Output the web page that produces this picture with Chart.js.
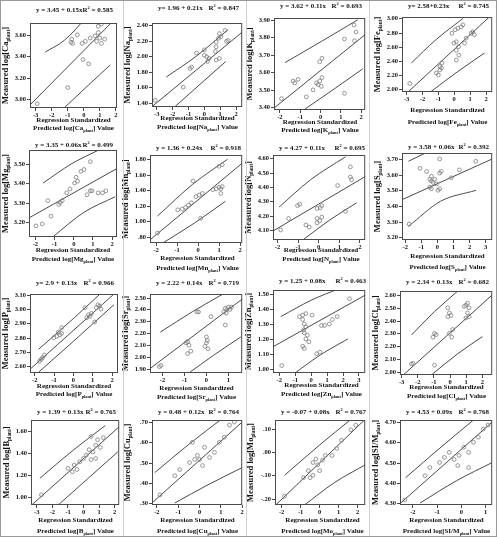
<!DOCTYPE html>
<html>
<head>
<meta charset="utf-8">
<script src="https://cdn.jsdelivr.net/npm/chart.js@4.4.1/dist/chart.umd.min.js"></script>
<style>
html, body { margin: 0; padding: 0; background: #fff; }
#fig { position: relative; width: 497px; height: 537px; overflow: hidden; }
#fig canvas { position: absolute; }
.frame { position: absolute; left: 0; top: 0; width: 497px; height: 537px; border: 1px solid #9a9a9a; box-sizing: border-box; }
.sep { position: absolute; top: 0; width: 1px; height: 537px; background: #cfcfcf; }
</style>
</head>
<body>
<div id="fig"></div>
<script>
// element names, fit equations and R squared, row by row
const elements = ['Ca', 'Na', 'K', 'Fe', 'Mg', 'Mn', 'N', 'S', 'P', 'Sr', 'Zn', 'Cl', 'B', 'Cu', 'Mo', 'SI/M'];
const equations = ['y = 3.45 + 0.15x', 'y= 1.96 + 0.21x', 'y = 3.62 + 0.11x', 'y= 2.58+0.23x',
    'y = 3.35 + 0.06x', 'y = 1.36 + 0.24x', 'y = 4.27 + 0.11x', 'y = 3.58 + 0.06x',
    'y= 2.9 + 0.13x', 'y = 2.22 + 0.14x', 'y = 1.25 + 0.08x', 'y = 2.34 + 0.13x',
    'y = 1.39 + 0.13x', 'y = 0.48 + 0.12x', 'y = -0.07 + 0.08x', 'y = 4.53 + 0.09x'];
const rSquared = ['0.585', '0.847', '0.693', '0.745', '0.499', '0.918', '0.695', '0.392',
    '0.966', '0.719', '0.463', '0.682', '0.765', '0.764', '0.767', '0.768'];

// axis ticks and limits
const xTickVals = [[-3, -2, -1, 0, 1, 2], [-3, -2, -1, 0, 1, 2], [-2, -1, 0, 1, 2], [-3, -2, -1, 0, 1, 2],
    [-2, -1, 0, 1, 2], [-2, -1, 0, 1, 2], [-2, -1, 0, 1, 2], [-2, -1, 0, 1, 2, 3],
    [-2, -1, 0, 1, 2], [-2, -1, 0, 1], [-2, -1, 0, 1, 2, 3], [-3, -2, -1, 0, 1, 2],
    [-3, -2, -1, 0, 1, 2], [-2, -1, 0, 1, 2], [-2, -1, 0, 1, 2], [-2, -1, 0, 1]];
const yTickVals = [[3.0, 3.2, 3.4, 3.6], [1.4, 1.6, 1.8, 2.0, 2.2, 2.4], [3.4, 3.5, 3.6, 3.7, 3.8, 3.9], [2.0, 2.2, 2.4, 2.6, 2.8, 3.0],
    [3.2, 3.3, 3.4, 3.5], [0.8, 1.0, 1.2, 1.4, 1.6, 1.8], [4.1, 4.2, 4.3, 4.4, 4.5, 4.6], [3.2, 3.3, 3.4, 3.5, 3.6, 3.7],
    [2.6, 2.7, 2.8, 2.9, 3.0, 3.1], [1.9, 2.0, 2.1, 2.2, 2.3, 2.4, 2.5], [1.0, 1.1, 1.2, 1.3, 1.4, 1.5], [2.0, 2.1, 2.2, 2.3, 2.4, 2.5, 2.6],
    [1.0, 1.2, 1.4, 1.6], [0.3, 0.4, 0.5, 0.6, 0.7], [-0.2, -0.1, 0.0, 0.1], [4.3, 4.4, 4.5, 4.6, 4.7]];
const xLimits = [[-3.35, 2.07], [-3.3, 2.39], [-2.29, 2.2], [-3.29, 2.39],
    [-2.33, 2.25], [-2.29, 2.1], [-2.22, 2.26], [-2.2, 3.41],
    [-2.25, 2.31], [-2.57, 1.63], [-2.39, 3.39], [-3.1, 2.61],
    [-3.37, 2.29], [-2.23, 2.0], [-2.35, 2.4], [-2.53, 1.27]];
const yLimits = [[2.92, 3.71], [1.345, 2.426], [3.385, 3.91], [1.96, 3.02],
    [3.123, 3.57], [0.723, 1.855], [4.03, 4.623], [3.183, 3.738],
    [2.554, 3.105], [1.867, 2.53], [0.97, 1.529], [1.974, 2.631],
    [0.927, 1.70], [0.29, 0.71], [-0.227, 0.137], [4.29, 4.71]];

// measured vs predicted points [x, y]
const caPts = [[-2.9, 2.96], [-1.0, 3.11], [-0.05, 3.37], [0.3, 3.33], [-0.8, 3.53], [-0.75, 3.56], [-0.7, 3.52], [-0.4, 3.60], [-0.1, 3.52], [0.1, 3.54], [0.4, 3.57], [0.7, 3.59], [0.9, 3.68], [1.1, 3.70], [0.9, 3.62], [1.0, 3.57], [1.1, 3.52], [1.3, 3.56], [0.8, 3.54]];
const naPts = [[-3.1, 1.43], [-1.33, 1.60], [-0.9, 1.84], [-0.8, 1.86], [-0.5, 2.04], [0.0, 2.08], [0.0, 2.01], [0.15, 1.99], [0.3, 1.97], [0.2, 1.93], [0.75, 2.12], [0.7, 2.06], [0.75, 2.18], [0.9, 2.23], [1.05, 2.25], [0.95, 2.29], [1.3, 2.33], [1.4, 2.19], [1.5, 2.20], [0.75, 1.95], [0.95, 1.97]];
const kPts = [[-1.92, 3.45], [-1.35, 3.55], [-1.1, 3.56], [-1.27, 3.54], [-0.7, 3.46], [-0.37, 3.50], [-0.2, 3.54], [-0.04, 3.55], [0.07, 3.57], [0.04, 3.52], [-0.12, 3.53], [0.07, 3.68], [-0.04, 3.66], [1.18, 3.79], [1.65, 3.87], [1.75, 3.83], [1.67, 3.78], [1.18, 3.48]];
const fePts = [[-2.8, 2.08], [-1.13, 2.23], [-1.0, 2.20], [-0.9, 2.32], [-0.9, 2.27], [-0.77, 2.37], [-0.8, 2.30], [-0.15, 2.79], [0.06, 2.84], [0.23, 2.86], [0.44, 2.88], [0.54, 2.91], [-0.02, 2.65], [0.13, 2.67], [0.27, 2.60], [0.13, 2.55], [0.29, 2.48], [0.13, 2.41], [0.65, 2.65], [0.75, 2.72], [1.06, 2.79], [1.17, 2.81], [1.27, 2.77]];
const mgPts = [[-1.97, 3.18], [-1.64, 3.19], [-1.18, 3.23], [-1.35, 3.31], [-0.7, 3.30], [-0.78, 3.29], [-0.6, 3.31], [-0.37, 3.35], [-0.2, 3.37], [0.04, 3.40], [0.2, 3.41], [0.12, 3.43], [0.53, 3.47], [0.37, 3.46], [0.86, 3.51], [0.69, 3.34], [0.86, 3.36], [0.95, 3.36], [1.27, 3.35], [1.5, 3.35], [1.67, 3.36]];
const mnPts = [[-1.93, 0.85], [-0.97, 1.15], [-0.75, 1.16], [-0.46, 1.21], [-0.32, 1.24], [-0.6, 1.18], [-0.1, 1.32], [0.05, 1.34], [0.2, 1.36], [0.71, 1.41], [0.86, 1.42], [1.0, 1.44], [1.08, 1.42], [1.15, 1.45], [1.08, 1.36], [0.12, 1.04], [1.0, 1.71], [1.15, 1.73], [-0.24, 1.52]];
const nPts = [[-1.85, 4.10], [-1.46, 4.18], [-1.03, 4.27], [-0.92, 4.28], [-0.62, 4.135], [-0.46, 4.12], [-0.08, 4.25], [0.15, 4.27], [0.07, 4.255], [-0.08, 4.18], [-0.08, 4.15], [0.05, 4.165], [0.15, 4.19], [0.92, 4.41], [1.54, 4.54], [1.54, 4.47], [1.6, 4.45], [1.3, 4.23]];
const sPts = [[-1.76, 3.285], [-1.08, 3.64], [-0.67, 3.62], [-0.37, 3.59], [-0.47, 3.57], [-0.37, 3.56], [-0.27, 3.55], [-0.16, 3.57], [-0.47, 3.52], [-0.37, 3.51], [0.14, 3.70], [0.14, 3.61], [0.24, 3.62], [-0.06, 3.54], [0.14, 3.51], [0.04, 3.50], [0.86, 3.58], [1.37, 3.63], [2.39, 3.685]];
const pPts = [[-1.76, 2.635], [-1.67, 2.65], [-1.6, 2.66], [-1.5, 2.68], [-1.02, 2.80], [-0.86, 2.81], [-0.7, 2.82], [-0.61, 2.83], [-0.78, 2.84], [-0.61, 2.87], [0.69, 2.94], [0.78, 2.96], [0.86, 2.95], [0.94, 2.97], [0.61, 3.01], [1.18, 3.01], [1.27, 3.03], [1.35, 3.02], [1.43, 3.0], [1.1, 2.91]];
const srPts = [[-2.14, 1.92], [-2.07, 1.93], [-0.93, 2.12], [-0.86, 2.13], [-0.79, 2.10], [-0.86, 2.03], [-0.71, 2.05], [-0.43, 2.38], [-0.36, 2.38], [0.21, 2.34], [0.0, 2.17], [0.04, 2.14], [0.0, 2.12], [-0.07, 2.09], [0.07, 2.07], [0.86, 2.27], [0.79, 2.38], [0.86, 2.41], [0.93, 2.40], [1.0, 2.42], [1.07, 2.40], [1.14, 2.42], [0.9, 2.37]];
const znPts = [[-1.84, 1.02], [-0.73, 1.35], [-0.53, 1.36], [-0.33, 1.37], [-0.53, 1.33], [-0.43, 1.30], [-0.33, 1.28], [-0.47, 1.26], [-0.43, 1.24], [-0.24, 1.225], [-0.33, 1.20], [-0.14, 1.18], [0.06, 1.36], [-0.53, 1.15], [-0.43, 1.135], [0.65, 1.29], [0.84, 1.29], [1.14, 1.30], [1.33, 1.33], [1.63, 1.35], [2.41, 1.47], [0.35, 1.10], [0.55, 1.11]];
const clPts = [[-2.39, 2.06], [-2.29, 2.065], [-1.06, 2.27], [-0.96, 2.30], [-0.86, 2.29], [-0.96, 2.05], [-0.04, 2.30], [0.16, 2.33], [0.1, 2.27], [-0.14, 2.50], [-0.04, 2.46], [0.06, 2.44], [-0.14, 2.43], [0.88, 2.51], [0.98, 2.52], [1.08, 2.535], [1.18, 2.50], [1.08, 2.46], [0.98, 2.42], [1.18, 2.43]];
const bPts = [[-2.7, 1.02], [-1.0, 1.26], [-0.72, 1.23], [-0.6, 1.29], [-0.42, 1.25], [-0.24, 1.32], [0.0, 1.35], [0.18, 1.38], [0.36, 1.43], [0.6, 1.41], [0.78, 1.47], [0.48, 1.34], [0.78, 1.35], [0.9, 1.52], [1.08, 1.45], [1.27, 1.54], [0.48, 1.55]];
const cuPts = [[-1.86, 0.34], [-1.16, 0.435], [-0.93, 0.465], [-0.47, 0.50], [-0.23, 0.515], [-0.1, 0.535], [0.0, 0.515], [0.14, 0.485], [-0.33, 0.60], [0.23, 0.575], [0.47, 0.525], [0.7, 0.55], [0.93, 0.60], [1.16, 0.625], [1.4, 0.685], [1.63, 0.70]];
const moPts = [[-1.85, -0.19], [-0.85, -0.11], [-0.6, -0.08], [-0.35, -0.10], [-0.35, -0.045], [-0.1, -0.055], [0.15, -0.035], [-0.2, -0.03], [0.3, -0.015], [-0.5, -0.11], [0.65, -0.015], [0.9, 0.015], [1.15, 0.05], [1.65, 0.095], [1.9, 0.115], [0.0, -0.08]];
const simPts = [[-2.33, 4.315], [-1.5, 4.435], [-1.3, 4.475], [-0.9, 4.50], [-0.7, 4.525], [-0.5, 4.55], [-0.3, 4.515], [-0.1, 4.535], [-0.15, 4.485], [0.1, 4.575], [0.3, 4.55], [0.5, 4.60], [0.7, 4.625], [0.9, 4.665], [1.1, 4.685], [0.3, 4.475]];

// fit line end points
const fitLines = [
    [[-3.4, 2.94], [2.1, 3.77]], [[-3.3, 1.35], [2.4, 2.31]], [[-2.3, 3.395], [2.2, 3.815]], [[-3.3, 1.88], [2.4, 3.06]],
    [[-2.35, 3.22], [2.25, 3.475]], [[-2.3, 0.76], [2.1, 1.75]], [[-2.25, 4.09], [2.35, 4.48]], [[-2.2, 3.44], [3.41, 3.70]],
    [[-2.25, 2.58], [2.31, 3.13]], [[-2.6, 1.90], [1.65, 2.49]], [[-2.4, 1.146], [3.4, 1.495]], [[-2.9, 1.974], [2.61, 2.60]],
    [[-3.3, 0.93], [2.3, 1.64]], [[-2.23, 0.30], [2.0, 0.70]], [[-2.35, -0.23], [2.4, 0.14]], [[-2.5, 4.30], [1.27, 4.70]]];
// upper and lower 95% bands
const upperBands = [
    [[-2.4, 3.44], [-1.2, 3.55], [0.1, 3.75]], [[-2.4, 1.73], [-0.5, 2.0], [1.5, 2.34]], [[-1.75, 3.655], [0.04, 3.776], [1.84, 3.90]], [[-2.7, 2.37], [-1.2, 2.69], [0.55, 3.0]],
    [[-1.6, 3.40], [-0.1, 3.50], [1.3, 3.57]], [[-1.93, 1.07], [-0.25, 1.48], [1.4, 1.80]], [[-1.92, 4.26], [-0.4, 4.45], [1.3, 4.61]], [[-1.8, 3.685], [-0.8, 3.735]],
    [[-1.8, 2.72], [0.05, 2.94], [1.9, 3.17]], [[-2.1, 2.21], [-0.65, 2.38], [0.95, 2.55]], [[-1.9, 1.35], [0.0, 1.46], [1.8, 1.54]], [[-2.39, 2.287], [-0.96, 2.47], [0.47, 2.63]],
    [[-2.8, 1.17], [-0.8, 1.41], [1.4, 1.65]], [[-2.1, 0.45], [-0.5, 0.59], [1.16, 0.725]], [[-1.85, -0.10], [0.0, 0.03], [1.65, 0.14]], [[-2.3, 4.425], [-0.8, 4.58], [0.65, 4.725]]];
const lowerBands = [
    [[-1.3, 2.91], [0.2, 3.12], [1.65, 3.32]], [[-1.85, 1.35], [-0.2, 1.65], [1.35, 1.93]], [[-0.78, 3.389], [0.61, 3.50], [2.08, 3.62]], [[-1.54, 1.953], [0.23, 2.25], [1.9, 2.51]],
    [[-1.1, 3.123], [0.53, 3.25], [2.16, 3.33]], [[-1.7, 0.72], [-0.17, 0.98], [1.3, 1.26]], [[-0.77, 4.03], [0.54, 4.17], [1.85, 4.29]], [[-1.8, 3.27], [0.2, 3.43], [2.4, 3.50]],
    [[-1.8, 2.56], [0.0, 2.775], [2.1, 3.03]], [[-0.93, 1.85], [0.36, 2.02], [1.57, 2.17]], [[-1.2, 0.955], [0.55, 1.09], [2.31, 1.20]], [[-1.16, 1.974], [0.47, 2.14], [2.0, 2.274]],
    [[-1.6, 0.93], [0.3, 1.17], [2.2, 1.41]], [[-1.16, 0.30], [0.4, 0.39], [2.0, 0.475]], [[-0.85, -0.23], [0.8, -0.13], [2.4, -0.055]], [[-1.7, 4.30], [-0.2, 4.41], [1.27, 4.50]]];

const pointSets = [caPts, naPts, kPts, fePts, mgPts, mnPts, nPts, sPts, pPts, srPts, znPts, clPts, bPts, cuPts, moPts, simPts];

// page layout (pixels)
const colX = [0, 116, 239, 362], colW = [124, 131, 131, 135];
const rowY = [0, 131, 264, 396], rowH = [131, 133, 132, 141];
const plotBoxes = [
    [30, 23, 117, 108], [152, 23, 243, 107], [274, 18, 366, 110], [402, 17, 493, 92],
    [29, 150, 117, 237], [150, 155, 245, 243], [273, 155, 369, 240], [402, 153, 493, 240],
    [30, 294, 118, 373], [150, 294, 243, 373], [273, 290, 370, 373], [400, 291, 493, 375],
    [31, 420, 120, 505], [152, 420, 243, 505], [275, 420, 370, 505], [400, 420, 493, 505]];
const titleY = [10, 8, 6, 6, 145, 148, 148, 147, 283, 283, 281, 282, 412, 412, 412, 412];
const xTitleY = [[120, 128], [118, 127], [122, 130], [110, 122], [250, 259], [258, 268], [250, 259], [256, 267],
    [386, 394], [388, 397], [385, 394], [387, 396], [520, 531], [520, 531], [520, 531], [520, 531]];

const SERIF = '"Liberation Serif", "Times New Roman", serif';
const INK = '#111111';
const LINE = '#4a4a4a';
const AXIS_W = 18, AXIS_H = 12, EXTRA_H = 10, YTITLE_GAP = 25;

function font(size) { return 'bold ' + size + 'px ' + SERIF; }

// parts: [text, 0 normal | 1 subscript | 2 superscript]
function drawRich(ctx, parts, x, y, size, align) {
    let w = 0;
    parts.forEach(p => { ctx.font = font(p[1] ? size * 0.62 : size); w += ctx.measureText(p[0]).width; });
    let px = align === 'center' ? x - w / 2 : align === 'right' ? x - w : x;
    ctx.textAlign = 'left';
    ctx.textBaseline = 'alphabetic';
    parts.forEach(p => {
        ctx.font = font(p[1] ? size * 0.62 : size);
        const dy = p[1] === 1 ? size * 0.22 : p[1] === 2 ? -size * 0.4 : 0;
        ctx.fillText(p[0], px, y + size * 0.32 + dy);
        px += ctx.measureText(p[0]).width;
    });
}

function fmtY(v) {
    let s = Math.abs(v).toFixed(2);
    if (Math.abs(v) < 1) s = s.replace(/^0/, '');
    return (v < -1e-9 ? '-' : '') + s;
}

const panelText = {
    id: 'panelText',
    afterDraw(chart, args, opts) {
        const ctx = chart.ctx, a = chart.chartArea, i = opts.index;
        const ox = opts.ox, oy = opts.oy;
        const [L, T, R, B] = plotBoxes[i];
        const el = elements[i];
        const yScale = chart.scales.y;
        ctx.save();
        ctx.strokeStyle = LINE;
        ctx.lineWidth = 1;
        ctx.strokeRect(a.left + 0.5, a.top + 0.5, a.right - a.left - 1, a.bottom - a.top - 1);
        ctx.fillStyle = INK;
        // y tick labels and marks placed by the chart's own y scale
        ctx.font = font(6.5);
        ctx.textAlign = 'right';
        ctx.textBaseline = 'middle';
        yTickVals[i].forEach(v => {
            const py = Math.round(yScale.getPixelForValue(v)) + 0.5;
            ctx.fillText(fmtY(v), a.left - 4, py);
            ctx.beginPath();
            ctx.moveTo(a.left - 3, py);
            ctx.lineTo(a.left, py);
            ctx.stroke();
        });
        drawRich(ctx, [[equations[i], 0]], L + 6 - ox, titleY[i] - oy, 7, 'left');
        drawRich(ctx, [['R', 0], ['2', 2], [' = ' + rSquared[i], 0]], R - 4 - ox, titleY[i] - oy, 7, 'right');
        drawRich(ctx, [['Regression Standardized', 0]], (L + R) / 2 - ox, xTitleY[i][0] - oy, 7, 'center');
        drawRich(ctx, [['Predicted log[' + el, 0], ['plant', 1], ['] Value', 0]], (L + R) / 2 - ox, xTitleY[i][1] - oy, 7, 'center');
        ctx.translate(Math.max(L - YTITLE_GAP - ox, 5), (T + B) / 2 - oy);
        ctx.rotate(-Math.PI / 2);
        drawRich(ctx, [['Measured log[' + el, 0], ['plant', 1], [']', 0]], 0, 0, 8.5, 'center');
        ctx.restore();
    }
};

function toXY(pairs) { return pairs.map(p => ({ x: p[0], y: p[1] })); }

function zeroPad(scale) {
    scale.paddingLeft = 0; scale.paddingRight = 0; scale.paddingTop = 0; scale.paddingBottom = 0;
}

const fig = document.getElementById('fig');

elements.forEach((el, i) => {
    const col = i % 4, row = Math.floor(i / 4);
    const cx = colX[col], cy = rowY[row], cw = colW[col], ch = rowH[row] + EXTRA_H;
    const [L, T, R, B] = plotBoxes[i];
    const canvas = document.createElement('canvas');
    canvas.width = cw;
    canvas.height = ch;
    canvas.style.left = cx + 'px';
    canvas.style.top = cy + 'px';
    canvas.style.width = cw + 'px';
    canvas.style.height = ch + 'px';
    fig.appendChild(canvas);

    const lineSet = (pairs, curved) => ({
        data: toXY(pairs), showLine: true, pointRadius: 0, borderColor: LINE, borderWidth: 1,
        cubicInterpolationMode: curved ? 'monotone' : 'default', clip: 0
    });

    new Chart(canvas.getContext('2d'), {
        type: 'scatter',
        data: {
            datasets: [
                {
                    data: toXY(pointSets[i]), showLine: false, pointStyle: 'circle', pointRadius: 1.9,
                    borderColor: '#7c7c7c', backgroundColor: 'rgba(255,255,255,0)', borderWidth: 0.8
                },
                lineSet(fitLines[i], false),
                lineSet(upperBands[i], true),
                lineSet(lowerBands[i], true)
            ]
        },
        options: {
            responsive: false,
            devicePixelRatio: 1,
            animation: false,
            events: [],
            layout: {
                padding: { left: L - cx - AXIS_W, top: T - cy, right: cx + cw - R, bottom: cy + ch - B - AXIS_H }
            },
            plugins: {
                legend: { display: false },
                tooltip: { enabled: false },
                panelText: { index: i, ox: cx, oy: cy }
            },
            scales: {
                x: {
                    type: 'linear', min: xLimits[i][0], max: xLimits[i][1],
                    afterBuildTicks: s => { s.ticks = xTickVals[i].map(v => ({ value: v })); },
                    afterFit: s => { s.height = AXIS_H; zeroPad(s); },
                    ticks: { font: { family: SERIF, size: 6.5, weight: 'bold' }, color: INK, padding: 0, maxRotation: 0, autoSkip: false, callback: v => String(v) },
                    grid: { drawOnChartArea: false, drawTicks: true, tickLength: 3, color: LINE },
                    border: { display: false }
                },
                y: {
                    type: 'linear', min: yLimits[i][0], max: yLimits[i][1],
                    afterFit: s => { s.width = AXIS_W; zeroPad(s); },
                    ticks: { display: false },
                    grid: { display: false },
                    border: { display: false }
                }
            }
        },
        plugins: [panelText]
    });
});

[123, 246, 369].forEach(x => {
    const d = document.createElement('div');
    d.className = 'sep';
    d.style.left = x + 'px';
    fig.appendChild(d);
});
const frame = document.createElement('div');
frame.className = 'frame';
fig.appendChild(frame);
</script>
</body>
</html>
